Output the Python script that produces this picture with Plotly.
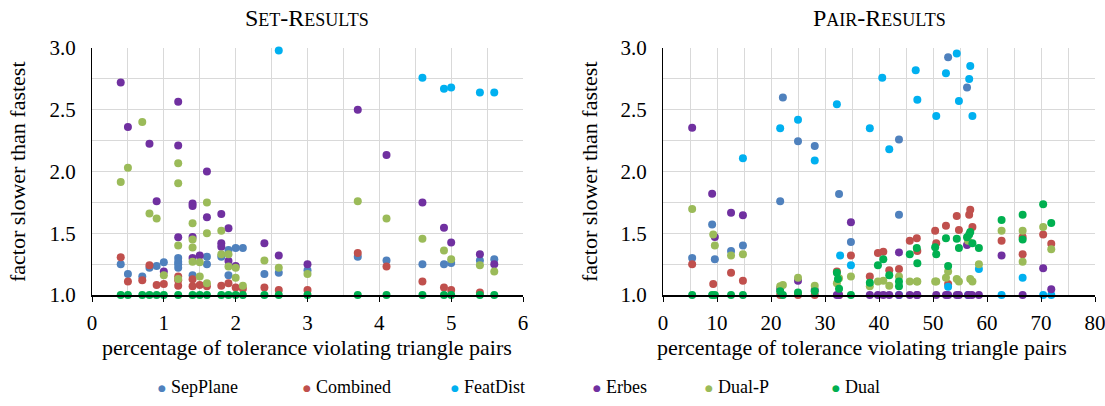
import plotly.graph_objects as go

# ---- Set-Results (left panel) ----
set_sep_x = [0.4, 0.5, 0.7, 0.8, 0.9, 1.0, 1.2, 1.2, 1.2, 1.2, 1.4, 1.6, 1.6, 1.8, 1.9, 1.9, 2.0, 2.1,
             2.4, 2.6, 3.0, 3.7, 4.1, 4.6, 4.9, 5.0, 5.4, 5.6]
set_sep_y = [1.25, 1.17, 1.15, 1.22, 1.235, 1.265, 1.30, 1.27, 1.25, 1.22, 1.16, 1.31, 1.25, 1.31, 1.365, 1.16,
             1.38, 1.38, 1.17, 1.18, 1.20, 1.31, 1.28, 1.25, 1.25, 1.26, 1.28, 1.29]

set_comb_x = [0.4, 0.5, 0.7, 0.8, 0.9, 1.0, 1.2, 1.2, 1.2, 1.4, 1.4, 1.5, 1.6, 1.8, 1.9, 2.0, 2.1,
              2.4, 2.6, 3.0, 3.7, 4.1, 4.6, 4.9, 5.0, 5.4]
set_comb_y = [1.305, 1.11, 1.12, 1.24, 1.08, 1.09, 1.15, 1.12, 1.075, 1.127, 1.07, 1.08, 1.07, 1.075, 1.095,
              1.06, 1.05, 1.06, 1.04, 1.04, 1.34, 1.23, 1.11, 1.06, 1.04, 1.02]

set_feat_x = [2.6, 4.6, 4.9, 5.0, 5.4, 5.6]
set_feat_y = [2.98, 2.76, 2.67, 2.68, 2.64, 2.64]

set_erbes_x = [0.4, 0.5, 0.8, 0.9, 1.0, 1.2, 1.2, 1.2, 1.4, 1.4, 1.4, 1.4, 1.5, 1.6, 1.6, 1.8, 1.8, 1.8,
               1.9, 1.9, 2.0, 2.4, 2.6, 3.0, 3.7, 4.1, 4.6, 4.9, 5.0, 5.4, 5.6]
set_erbes_y = [2.72, 2.36, 2.225, 1.76, 1.19, 2.565, 2.21, 1.467, 1.74, 1.72, 1.47, 1.30, 1.32, 2.0, 1.63,
               1.656, 1.42, 1.39, 1.54, 1.275, 1.235, 1.42, 1.32, 1.25, 2.50, 2.134, 1.75, 1.545, 1.425,
               1.33, 1.25]

set_dualp_x = [0.4, 0.5, 0.7, 0.8, 0.9, 1.0, 1.2, 1.2, 1.2, 1.2, 1.4, 1.4, 1.4, 1.4, 1.5, 1.5, 1.6, 1.6,
               1.6, 1.8, 1.8, 1.9, 1.9, 2.0, 2.0, 2.1, 2.4, 2.6, 3.0, 3.7, 4.1, 4.6, 4.9, 5.0, 5.4, 5.6]
set_dualp_y = [1.915, 2.03, 2.40, 1.66, 1.62, 1.16, 2.066, 1.905, 1.40, 1.13, 1.58, 1.45, 1.385, 1.27,
               1.265, 1.15, 1.75, 1.50, 1.095, 1.52, 1.33, 1.33, 1.23, 1.22, 1.14, 1.075, 1.28, 1.22,
               1.17, 1.76, 1.62, 1.456, 1.36, 1.29, 1.24, 1.19]

set_dual_x = [0.4, 0.5, 0.7, 0.8, 0.9, 1.0, 1.2, 1.4, 1.5, 1.6, 1.8, 1.9, 2.0, 2.1, 2.4, 2.6, 3.0, 3.7,
              4.1, 4.6, 4.9, 5.0, 5.4, 5.6]
set_dual_y = [1.0] * 24

# ---- Pair-Results (right panel) ----
pair_sep_x = [5.4, 9.1, 9.6, 12.6, 14.8, 21.7, 22.2, 25.0, 28.1, 32.6, 34.8, 43.7, 43.7, 52.8, 56.3]
pair_sep_y = [1.30, 1.57, 1.29, 1.356, 1.40, 1.76, 2.60, 2.245, 2.206, 1.818, 1.43, 2.26, 1.65, 2.925, 2.68]

pair_comb_x = [5.4, 9.3, 12.6, 14.8, 21.7, 25.0, 28.1, 32.2, 32.6, 34.8, 38.3, 39.8, 40.8, 41.9, 43.7,
               45.7, 47.0, 47.1, 50.4, 50.6, 52.4, 52.8, 54.4, 54.8, 56.7, 56.9, 57.3, 62.7, 66.6, 66.6,
               70.4, 71.9]
pair_comb_y = [1.25, 1.09, 1.18, 1.116, 1.0, 1.0, 1.0, 1.19, 1.0, 1.32, 1.15, 1.34, 1.35, 1.20, 1.21,
               1.44, 1.46, 1.356, 1.52, 1.42, 1.56, 1.09, 1.64, 1.526, 1.65, 1.69, 1.55, 1.44, 1.47, 1.33,
               1.49, 1.415]

pair_feat_x = [14.8, 21.7, 25.0, 28.1, 32.2, 32.8, 34.8, 38.3, 40.6, 41.9, 43.7, 46.8, 47.1, 50.6, 52.4,
               52.8, 54.4, 54.8, 56.5, 56.7, 56.9, 57.3, 58.5, 62.7, 66.6, 70.4, 71.9]
pair_feat_y = [2.107, 2.35, 2.42, 2.09, 2.544, 1.32, 1.24, 2.35, 2.76, 2.18, 1.0, 2.82, 2.58, 2.45, 2.795,
               1.067, 2.955, 2.57, 1.0, 2.75, 2.855, 2.45, 1.21, 1.0, 1.14, 1.0, 1.0]

pair_erbes_x = [5.4, 9.1, 9.6, 12.6, 14.8, 21.7, 25.0, 28.1, 32.2, 32.6, 34.8, 38.3, 39.8, 40.8, 41.9,
                43.7, 43.7, 45.7, 47.0, 47.1, 50.6, 52.4, 52.8, 54.4, 54.8, 56.3, 56.5, 57.2, 58.5, 62.7,
                66.6, 70.4, 71.9]
pair_erbes_y = [2.355, 1.82, 1.47, 1.666, 1.645, 1.05, 1.116, 1.04, 1.0, 1.0, 1.59, 1.0, 1.0, 1.0, 1.0,
                1.345, 1.0, 1.0, 1.0, 1.0, 1.0, 1.0, 1.0, 1.0, 1.0, 1.405, 1.0, 1.0, 1.0, 1.32, 1.0,
                1.216, 1.046]

pair_dualp_x = [5.4, 9.3, 9.6, 12.6, 14.8, 21.7, 22.2, 25.0, 28.1, 32.2, 32.6, 34.8, 38.3, 39.8, 40.8,
                41.9, 43.7, 45.7, 47.0, 47.1, 50.4, 50.6, 52.4, 52.8, 54.4, 54.8, 56.5, 56.9, 57.3, 58.5,
                62.7, 66.6, 66.6, 70.4, 71.9]
pair_dualp_y = [1.696, 1.49, 1.40, 1.32, 1.33, 1.07, 1.08, 1.14, 1.075, 1.095, 1.135, 1.15, 1.07, 1.11,
                1.116, 1.075, 1.15, 1.11, 1.11, 1.11, 1.11, 1.11, 1.14, 1.19, 1.13, 1.11, 1.44, 1.13,
                1.11, 1.25, 1.52, 1.52, 1.27, 1.55, 1.37]

pair_dual_x = [5.4, 9.1, 9.6, 12.6, 14.8, 21.7, 22.2, 25.0, 28.1, 32.2, 32.4, 32.6, 34.8, 38.3, 39.8,
               40.8, 41.9, 43.7, 43.7, 45.7, 47.0, 47.1, 50.4, 50.6, 52.4, 52.8, 54.4, 54.8, 56.3, 56.7,
               56.9, 57.3, 58.5, 62.7, 66.6, 66.6, 70.4, 71.9]
pair_dual_y = [1.0, 1.0, 1.0, 1.0, 1.0, 1.03, 1.0, 1.02, 1.03, 1.18, 1.13, 1.05, 1.0, 1.10, 1.24, 1.29,
               1.16, 1.11, 1.07, 1.33, 1.38, 1.257, 1.386, 1.33, 1.46, 1.235, 1.456, 1.38, 1.467, 1.49,
               1.51, 1.42, 1.38, 1.607, 1.65, 1.45, 1.734, 1.583]

series_names = ["SepPlane", "Combined", "FeatDist", "Erbes", "Dual-P", "Dual"]
series_colors = ["#4F81BD", "#C0504D", "#00B0F0", "#7030A0", "#9BBB59", "#00B050"]

set_data = [(set_sep_x, set_sep_y), (set_comb_x, set_comb_y), (set_feat_x, set_feat_y),
            (set_erbes_x, set_erbes_y), (set_dualp_x, set_dualp_y), (set_dual_x, set_dual_y)]
pair_data = [(pair_sep_x, pair_sep_y), (pair_comb_x, pair_comb_y), (pair_feat_x, pair_feat_y),
             (pair_erbes_x, pair_erbes_y), (pair_dualp_x, pair_dualp_y), (pair_dual_x, pair_dual_y)]

W, H = 1105, 406
FONT = "Liberation Serif"


def px(x):
    return x / W


def py(y):
    return 1 - y / H


fig = go.Figure()
for (xs, ys), name, color in zip(set_data, series_names, series_colors):
    fig.add_trace(go.Scatter(x=xs, y=ys, mode="markers", name=name, showlegend=False,
                             marker=dict(size=8, color=color, line=dict(width=0)),
                             cliponaxis=False, xaxis="x", yaxis="y"))
for (xs, ys), name, color in zip(pair_data, series_names, series_colors):
    fig.add_trace(go.Scatter(x=xs, y=ys, mode="markers", name=name, showlegend=False,
                             marker=dict(size=8, color=color, line=dict(width=0)),
                             cliponaxis=False, xaxis="x2", yaxis="y2"))

grid = "#d9d9d9"
tick_font = dict(family=FONT, size=21, color="black")
common_x = dict(showgrid=True, gridcolor=grid, gridwidth=1, zeroline=False, showline=True,
                linecolor="black", linewidth=1.5, ticks="outside", ticklen=5, tickcolor="black",
                tickfont=tick_font, ticklabelstandoff=3, automargin=False,
                ticklabeloverflow="allow")
common_y = dict(range=[1, 3], dtick=0.5, tick0=1, tickformat=".1f", showgrid=True, gridcolor=grid,
                gridwidth=1, zeroline=False, showline=True, linecolor="black", linewidth=1.2,
                ticks="", tickfont=tick_font, ticklabelstandoff=11, automargin=False,
                ticklabeloverflow="allow",
                minor=dict(dtick=0.25, showgrid=True, gridcolor=grid, gridwidth=1))

y_top, y_bot = 48, 295
fig.update_layout(
    width=W, height=H, margin=dict(l=0, r=0, t=0, b=0, pad=0, autoexpand=False),
    paper_bgcolor="white", plot_bgcolor="white", showlegend=False,
    xaxis=dict(domain=[px(92), px(523)], range=[0, 6], dtick=1, tick0=0, anchor="y",
               minor=dict(dtick=0.5, showgrid=True, gridcolor=grid, gridwidth=1), **common_x),
    yaxis=dict(domain=[py(y_bot), py(y_top)], anchor="x", **common_y),
    xaxis2=dict(domain=[px(663), px(1095)], range=[0, 80], dtick=10, tick0=0, anchor="y2",
                minor=dict(dtick=5, showgrid=True, gridcolor=grid, gridwidth=1), **common_x),
    yaxis2=dict(domain=[py(y_bot), py(y_top)], anchor="x2", **common_y),
)

annotations = []
small = "<span style='font-size:18px'>{}</span>"
titles = [("S" + small.format("ET") + "-R" + small.format("ESULTS"), 307),
          ("P" + small.format("AIR") + "-R" + small.format("ESULTS"), 880)]
for text, cx in titles:
    annotations.append(dict(text=text, x=px(cx), y=py(18), xref="paper", yref="paper",
                            showarrow=False, xanchor="center", yanchor="middle",
                            font=dict(family=FONT, size=24, color="black")))

for cx in (307, 862):
    annotations.append(dict(text="percentage of tolerance violating triangle pairs", x=px(cx), y=py(347),
                            xref="paper", yref="paper", showarrow=False, xanchor="center",
                            yanchor="middle", font=dict(family=FONT, size=22, color="black")))
for cx in (18, 590):
    annotations.append(dict(text="factor slower than fastest", x=px(cx), y=py(172), textangle=-90,
                            xref="paper", yref="paper", showarrow=False, xanchor="center",
                            yanchor="middle", font=dict(family=FONT, size=22, color="black")))

# legend row along the bottom
legend_x = [162, 307, 455, 597, 709, 836]
for name, color, lx in zip(series_names, series_colors, legend_x):
    annotations.append(dict(text="●", x=px(lx), y=py(388), xref="paper", yref="paper",
                            showarrow=False, xanchor="center", yanchor="middle",
                            font=dict(family="DejaVu Sans", size=9, color=color)))
    annotations.append(dict(text=name, x=px(lx + 7), y=py(387), xref="paper", yref="paper",
                            showarrow=False, xanchor="left", yanchor="middle",
                            font=dict(family=FONT, size=18, color="black")))

fig.update_layout(annotations=annotations)
fig.write_html("out.html")
